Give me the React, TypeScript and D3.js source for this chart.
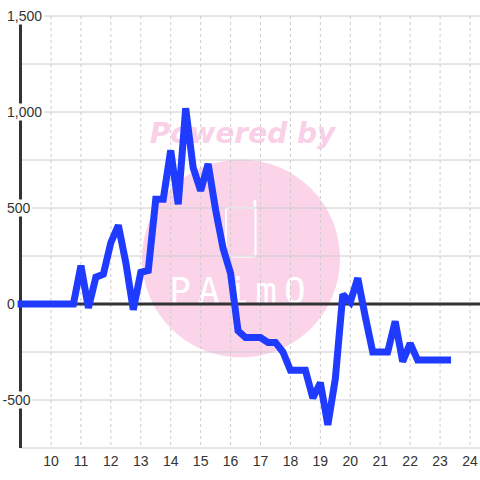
import * as d3 from "d3";

const WIDTH = 480;
const HEIGHT = 480;

// hours of the day (15 min steps)
const HOURS = [
  9, 9.25, 9.5, 9.75, 10, 10.25, 10.5, 10.75, 11, 11.25, 11.5, 11.75, 12,
  12.25, 12.5, 12.75, 13, 13.25, 13.5, 13.75, 14, 14.25, 14.5, 14.75, 15,
  15.25, 15.5, 15.75, 16, 16.25, 16.5, 16.75, 17, 17.25, 17.5, 17.75, 18,
  18.25, 18.5, 18.75, 19, 19.25, 19.5, 19.75, 20, 20.25, 20.5, 20.75, 21,
  21.25, 21.5, 21.75, 22, 22.25, 22.5, 22.75, 23, 23.25,
];

const VALUES = [
  0, 0, 0, 0, 0, 0, 0, 0, 200, -20, 140, 155, 320,
  410, 215, -30, 165, 175, 545, 545, 800, 520, 1020, 710, 590,
  730, 490, 290, 160, -140, -175, -175, -175, -200, -200, -250, -345,
  -345, -345, -490, -410, -630, -390, 50, 10, 135, -65, -250, -250,
  -250, -90, -300, -205, -292, -292, -292, -292, -292,
];

const X_TICKS = [10, 11, 12, 13, 14, 15, 16, 17, 18, 19, 20, 21, 22, 23, 24];
const Y_GRID = [-750, -500, -250, 0, 250, 500, 750, 1000, 1250, 1500];
const Y_TICKS = [-500, 0, 500, 1000, 1500];
const Y_LABELS = ["-500", "0", "500", "1,000", "1,500"];

const LEFT = 20.5;
const RIGHT = WIDTH;

// rough Liberation Sans widths at 14px, used for the white label boxes
const charWidth = (c: string) => (c === "," ? 3.9 : c === "-" ? 4.7 : 7.8);
const textWidth = (s: string) =>
  s.split("").reduce((acc, c) => acc + charWidth(c), 0);

export default function App() {
  const xScale = d3.scaleLinear().domain([10, 24]).range([51, 470]);
  const yScale = d3.scaleLinear().domain([-750, 1500]).range([448, 16]);

  const points: [number, number][] = HOURS.map((h, i) => [h, VALUES[i]]);
  const path = d3
    .line<[number, number]>()
    .x((d) => xScale(d[0]))
    .y((d) => yScale(d[1]))(points);

  return (
    <svg
      width={WIDTH}
      height={HEIGHT}
      style={{ position: "absolute", left: 0, top: 0, background: "#fff" }}
      fontFamily="'Liberation Sans', Arial, sans-serif"
    >
      {/* watermark */}
      <g>
        <circle cx={241} cy={258.5} r={99} fill="#fbd4ea" />
        <text
          x={242.5}
          y={143}
          textAnchor="middle"
          fontFamily="'DejaVu Sans', sans-serif"
          fontWeight="bold"
          fontStyle="italic"
          fontSize={28}
          fill="#fad0e8"
        >
          Powered by
        </text>
        <rect
          x={226}
          y={208}
          width={29.5}
          height={48.5}
          rx={2}
          fill="none"
          stroke="#fff"
          strokeWidth={2}
        />
        <line x1={255} x2={255} y1={208} y2={201} stroke="#fff" strokeWidth={2.5} strokeLinecap="round" />
        <text
          x={241}
          y={303}
          textAnchor="middle"
          fontFamily="'DejaVu Sans Mono', monospace"
          fontSize={36}
          letterSpacing={7}
          fill="#fff"
        >
          PAimO
        </text>
      </g>

      {/* horizontal grid */}
      {Y_GRID.map((v) => (
        <line
          key={v}
          x1={LEFT}
          x2={RIGHT}
          y1={yScale(v)}
          y2={yScale(v)}
          stroke="#cccccc"
          strokeWidth={1}
        />
      ))}

      {/* vertical dashed grid */}
      {X_TICKS.map((t) => (
        <line
          key={t}
          x1={xScale(t)}
          x2={xScale(t)}
          y1={yScale(1500)}
          y2={yScale(-750)}
          stroke="#cccccc"
          strokeWidth={1}
          strokeDasharray="3,3"
        />
      ))}

      {/* zero line */}
      <line x1={LEFT} x2={RIGHT} y1={yScale(0)} y2={yScale(0)} stroke="#333" strokeWidth={3} />

      {/* y axis */}
      <line x1={LEFT} x2={LEFT} y1={yScale(1500)} y2={yScale(-750)} stroke="#333" strokeWidth={3} />

      {/* data line */}
      <path
        d={path ?? ""}
        fill="none"
        stroke="#1f3bff"
        strokeWidth={7}
        strokeLinecap="square"
        strokeMiterlimit={2}
      />

      {/* y labels with white boxes */}
      {Y_TICKS.map((v, i) => {
        const label = Y_LABELS[i];
        const x0 = v < 0 ? 7 - 4.5 : 7;
        const w = textWidth(label);
        return (
          <g key={v}>
            <rect x={x0 - 2} y={yScale(v) - 8.5} width={w + 4} height={17} fill="#fff" />
            <text
              x={x0}
              y={yScale(v)}
              dominantBaseline="central"
              fontSize={14}
              fill="#333"
            >
              {label}
            </text>
          </g>
        );
      })}

      {/* x labels */}
      {X_TICKS.map((t) => (
        <text
          key={t}
          x={xScale(t)}
          y={461}
          textAnchor="middle"
          dominantBaseline="central"
          fontSize={14}
          fill="#333"
        >
          {t}
        </text>
      ))}
    </svg>
  );
}
